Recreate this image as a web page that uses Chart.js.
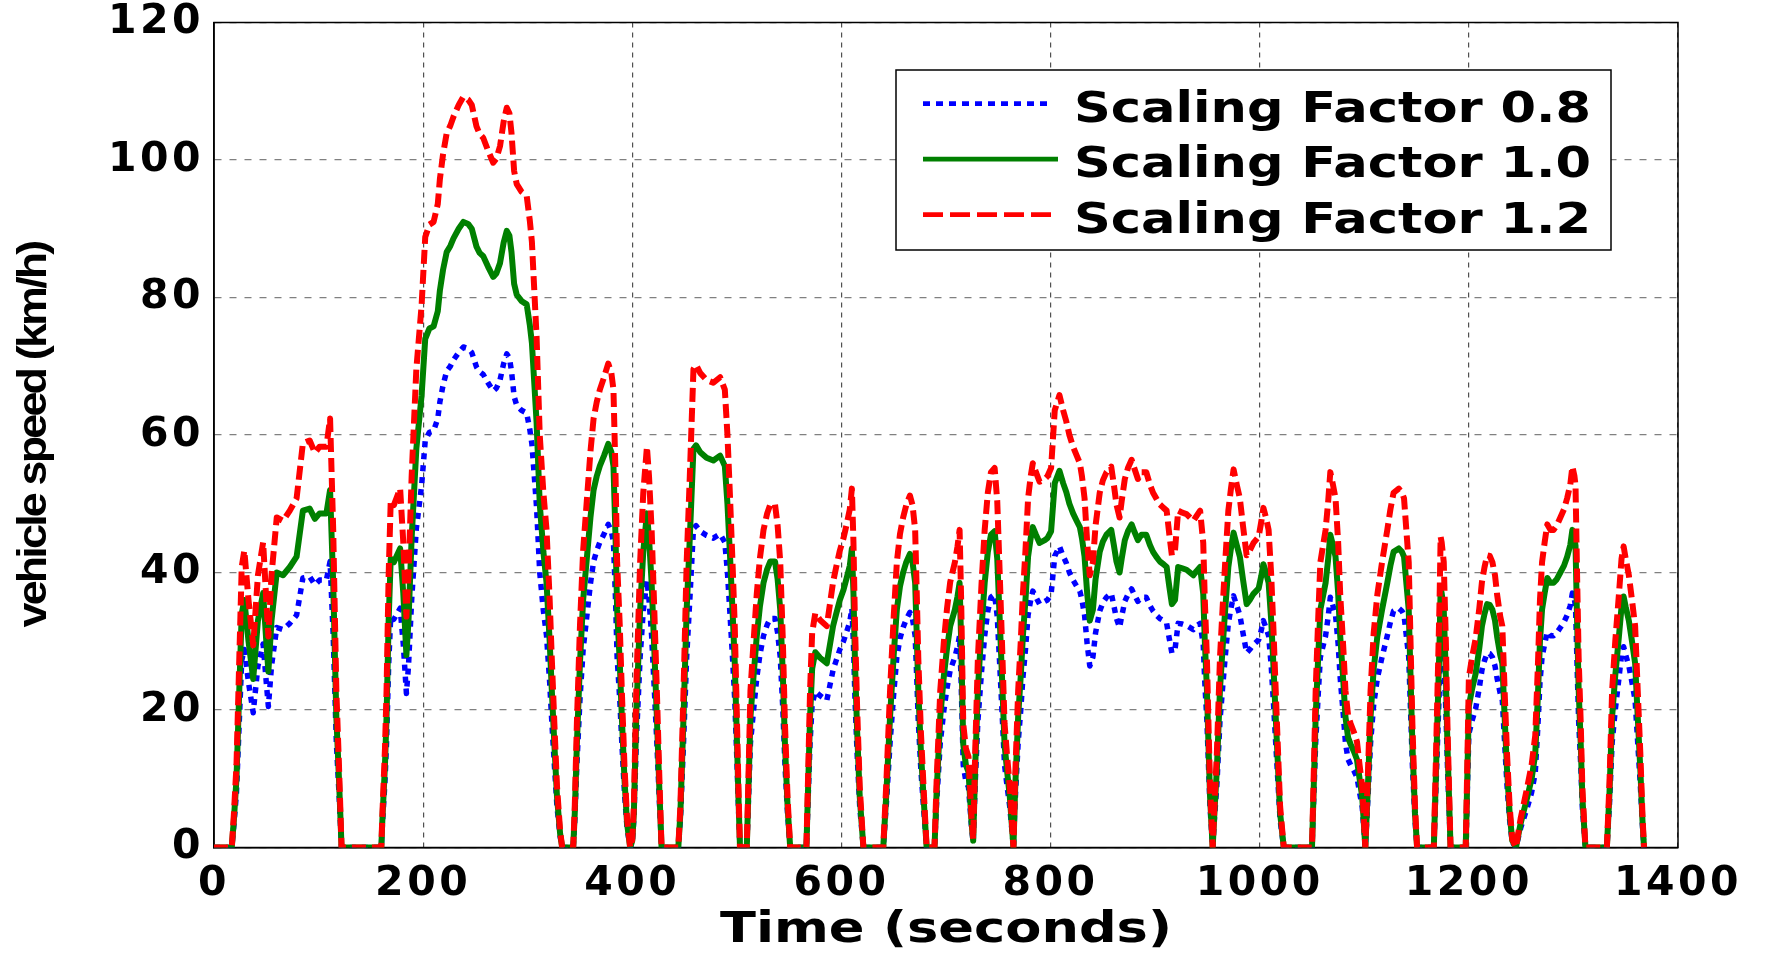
<!DOCTYPE html>
<html>
<head>
<meta charset="utf-8">
<script src="https://cdn.jsdelivr.net/npm/chart.js@4.4.1/dist/chart.umd.min.js"></script>
<style>
  html, body { margin: 0; padding: 0; background: #fff; }
  #wrap { width: 1766px; height: 955px; position: relative; }
</style>
</head>
<body>
<div id="wrap"><canvas id="grafico-velocidade"></canvas></div>
<script>
// tempo (s) - eixo x
const tempo = [0,17,19,21.5,24,26.5,29,33,37.5,42,47,50,52,55,60,66,72.5,79,85,91.5,96.5,101,107.5,111,114,117,119.5,122,
  160,161,163.5,165,167,169,172,175,178,181,184,186,189,193.5,198.5,202,206,210,214,216,219,222.5,226,229,234,238.5,243,246.5,251,254,257.5,262,267,270,273.5,277,280,282.5,284.5,287,289.5,294,299,302,304,306.5,308.5,311.5,315,318,321,323,325.5,328,331,333,
  343.5,345,347,350,353,356.5,360,363,366,369,373,377,380,382,384,385.5,388,390,392.5,395,398,
  400,401.5,404,407.5,410.5,414,416,418.5,421,423.5,426,428,
  444,446,449,452,455,458.5,461,465,471,477.5,484,488.5,491,493.5,496,498,500,501.5,503,
  509.5,511,513,516,519,522,525.5,529,532,536.5,539,541.5,544,546,548.5,551,
  566.5,568,570,572,575,579.5,586,589,592,595,598.5,602,605,608,610,611.5,613,615,617.5,621,
  640,643,646.5,650,653,656,659,662,665.5,668,670.5,672,673.5,676,678.5,681.5,
  689,691,694.5,698,701,704,708.5,711,713,714.5,716.5,719,721.5,724.5,726,728,730.5,734,737,740,743,746.5,749,751,753.5,756,758.5,761,764.5,
  766,769,771.5,773.5,776,778.5,781,783,786,789.5,794.5,797,800.5,802,804,808.5,812,815,818,821.5,825,828,830,832.5,835,837.5,840.5,843,847,850,853.5,858,860.5,863,866,868,871,874,877.5,880,883.5,887,891.5,895,898,901,904.5,908,911,913.5,916,919,922,926,930,936.5,939.5,943,946,947.5,949.5,951,952.5,955,
  957,959,962,964.5,967,970,972.5,975,978,981,984,987.5,990.5,994,999,1001.5,1003.5,1006,1008.5,1011,1013,1016.5,1019.5,1023,
  1050,1051.5,1053.5,1056,1058,1063,1065.5,1067.5,1070,1072.5,1075,1077,1080,1082,1084.5,1087,1090,1093,1095.5,1098,1101,
  1103.5,1106,1109,1112.5,1117,1122,1125,1128,1133,1136,1138,1140.5,1142.5,1146,1148.5,1150.5,
  1166.5,1168,1170,1172,1173,1174,1176,1178,1179.5,1182.5,
  1197,1198.5,1200,1203,1206.5,1210,1212.5,1215,1217.5,1220,1222.5,1225,1227,1230,1232,1234.5,1236.5,1239,1241.5,1245,
  1249.5,1252,1256,1260,1263.5,1266,1268,1270,1272.5,1275,1278,1281,1284,1287.5,1291,1294,1297,1299,1301,1302,1303.5,1305,1307,1308.5,1311.5,
  1332,1334.5,1337,1340,1343.5,1346,1348,1350,1353,1356,1359,1361.5,1364,1366,1367.5];

// velocidade (km/h) - fator 0.8
const fator08 = [0,0,3.2,8,17.6,27.2,28.8,24,19.6,26.4,29.6,24,20.5,26.4,32,31.7,32.6,33.8,39.2,39.4,38.2,38.9,38.9,41.6,30.8,15.2,8,0,
  0,3.2,9.6,15.2,26.4,33.6,33.2,34,34.8,29.6,22.4,26.4,36,46.4,52.6,59.2,60.4,60.6,62.4,64.8,67.2,69.3,70,70.9,72,72.8,72.6,72,69.9,69.2,68.8,67.6,66.4,66.8,68,70.4,71.8,71.2,69.3,65.6,64.3,63.6,63.2,60.8,58.7,53.6,49.4,40,34.4,30.8,24,18.4,12,5.9,1.6,0,
  0,4,12,21.6,28.8,33.6,38.4,41.6,43.2,44.4,45.6,47,46,44.4,36,27.7,21.6,15.2,8,2.8,0,
  0.8,4,16,27.7,34.4,38.9,36,30.8,23.2,15.2,6.4,0,
  0,4,15.2,27.7,36,46.4,46.8,46,45.4,45,45.6,44.4,40,33.8,27.2,21.4,12.8,5.9,0,
  0,6.4,15.2,20,24.6,28,30.8,32.4,33.3,33.3,31.2,27.7,20,12,4.8,0,
  0,6.4,15.2,20.8,22.7,22.1,21.4,23.6,25.8,27.2,28.8,30,31.4,32.8,34.8,29.6,21.4,13.6,5.9,0,
  0,6.4,15.2,22.4,27.7,30.4,32,33.2,34.2,33.2,30.8,24.8,18.4,11.2,5.9,0,
  0,6.4,15.2,20,23.2,25.8,27.7,29.2,30.8,24,12,9.6,8.8,2.8,0.8,9.6,18.4,25.6,30.8,34.4,36.4,36.8,33.6,27.7,20,12,8.8,5.9,0,
  6.4,15.2,20,24.6,28.8,33.8,36,37.3,36.4,35.4,35.8,36,36.8,39.2,42.4,43.8,42.4,41.4,40,38.9,38,37.3,36,33.8,29.6,26.4,27.7,31.2,34.4,35.6,36.4,37,35.2,33.3,32,33.6,35.8,36.8,37.6,36.8,35.8,36.4,36.4,35.2,34.4,33.8,33.3,33,32.6,30.4,28.3,28.8,32.6,32.5,32.3,31.7,32.2,32.6,29.5,24,18.4,12,5.9,0,
  4.8,9,18.4,23.2,27.7,32.6,34.8,36.6,35.2,33.8,31.2,28.3,28.8,29.5,30.2,31.6,33,32,30.8,26.4,21.4,12,4,0,
  0,6.4,15.2,22.4,27.7,30.8,33.6,36.4,35.2,33.8,29.6,24.6,19.2,15.2,12.8,12,11.2,10.2,8,5.9,0,
  7.2,15.2,20.8,24.6,27.7,30.8,32.8,34.4,34.8,34.4,33.8,30.4,27.7,12,4,0,
  0,6.4,15.2,24,30.2,29.6,27.7,20,12,0,
  0,8,16.5,18.4,20.2,23.2,25.8,27.2,28.3,28.2,27.7,26.4,24.6,22.4,21.4,14.4,9,4,0.8,0,
  2.8,4,5.9,8,10.9,17.6,24,27.7,29.6,31.4,30.8,30.8,31.2,32,32.8,33.8,35.2,37,36,35.1,26.4,18.4,12,5.9,0,
  0,6.4,15.2,20,24.6,28,29.2,28,26.4,24,21.4,15.2,9,3.2,0];

// velocidade (km/h) - fator 1.0
const fator10 = [0,0,4,10,22,34,36,30,24.5,33,37,30,25.6,33,40,39.6,40.8,42.3,49,49.3,47.8,48.6,48.6,52,38.5,19,10,0,
  0,4,12,19,33,42,41.5,42.5,43.5,37,28,33,45,58,65.7,74,75.5,75.8,78,81,84,86.6,87.5,88.6,90,91,90.7,90,87.4,86.5,86,84.5,83,83.5,85,88,89.7,89,86.6,82,80.4,79.5,79,76,73.4,67,61.8,50,43,38.5,30,23,15,7.4,2,0,
  0,5,15,27,36,42,48,52,54,55.5,57,58.7,57.5,55.5,45,34.6,27,19,10,3.5,0,
  1,5,20,34.6,43,48.6,45,38.5,29,19,8,0,
  0,5,19,34.6,45,58,58.5,57.5,56.7,56.3,57,55.5,50,42.3,34,26.8,16,7.4,0,
  0,8,19,25,30.7,35,38.5,40.5,41.6,41.6,39,34.6,25,15,6,0,
  0,8,19,26,28.4,27.6,26.8,29.5,32.2,34,36,37.5,39.2,41,43.5,37,26.8,17,7.4,0,
  0,8,19,28,34.6,38,40,41.5,42.7,41.5,38.5,31,23,14,7.4,0,
  0,8,19,25,29,32.2,34.6,36.5,38.5,30,15,12,11,3.5,1,12,23,32,38.5,43,45.5,46,42,34.6,25,15,11,7.4,0,
  8,19,25,30.7,36,42.3,45,46.6,45.5,44.3,44.7,45,46,49,53,54.8,53,51.7,50,48.6,47.5,46.6,45,42.3,37,33,34.6,39,43,44.5,45.5,46.2,44,41.6,40,42,44.7,46,47,46,44.7,45.5,45.5,44,43,42.3,41.6,41.2,40.8,38,35.4,36,40.8,40.6,40.4,39.6,40.2,40.8,36.9,30,23,15,7.4,0,
  6,11.3,23,29,34.6,40.8,43.5,45.8,44,42.3,39,35.4,36,36.9,37.7,39.5,41.2,40,38.5,33,26.8,15,5,0,
  0,8,19,28,34.6,38.5,42,45.5,44,42.3,37,30.7,24,19,16,15,14,12.8,10,7.4,0,
  9,19,26,30.7,34.6,38.5,41,43,43.5,43,42.3,38,34.6,15,5,0,
  0,8,19,30,37.7,37,34.6,25,15,0,
  0,10,20.6,23,25.3,29,32.2,34,35.4,35.3,34.6,33,30.7,28,26.8,18,11.3,5,1,0,
  3.5,5,7.4,10,13.6,22,30,34.6,37,39.2,38.5,38.5,39,40,41,42.3,44,46.2,45,43.9,33,23,15,7.4,0,
  0,8,19,25,30.7,35,36.5,35,33,30,26.8,19,11.3,4,0];

// velocidade (km/h) - fator 1.2
const fator12 = [0,0,4.8,12,26.4,40.8,43.2,36,29.4,39.6,44.4,36,30.7,39.6,48,47.5,49,50.8,58.8,59.2,57.4,58.3,58.3,62.4,46.2,22.8,12,0,
  0,4.8,14.4,22.8,39.6,50.4,49.8,51,52.2,44.4,33.6,39.6,54,69.6,78.8,88.8,90.6,91,93.6,97.2,100.8,103.9,105,106.3,108,109.2,108.8,108,104.9,103.8,103.2,101.4,99.6,100.2,102,105.6,107.6,106.8,103.9,98.4,96.5,95.4,94.8,91.2,88.1,80.4,74.2,60,51.6,46.2,36,27.6,18,8.9,2.4,0,
  0,6,18,32.4,43.2,50.4,57.6,62.4,64.8,66.6,68.4,70.4,69,66.6,54,41.5,32.4,22.8,12,4.2,0,
  1.2,6,24,41.5,51.6,58.3,54,46.2,34.8,22.8,9.6,0,
  0,6,22.8,41.5,54,69.6,70.2,69,68,67.6,68.4,66.6,60,50.8,40.8,32.2,19.2,8.9,0,
  0,9.6,22.8,30,36.8,42,46.2,48.6,49.9,49.9,46.8,41.5,30,18,7.2,0,
  0,9.6,22.8,31.2,34.1,33.1,32.2,35.4,38.6,40.8,43.2,45,47,49.2,52.2,44.4,32.2,20.4,8.9,0,
  0,9.6,22.8,33.6,41.5,45.6,48,49.8,51.2,49.8,46.2,37.2,27.6,16.8,8.9,0,
  0,9.6,22.8,30,34.8,38.6,41.5,43.8,46.2,36,18,14.4,13.2,4.2,1.2,14.4,27.6,38.4,46.2,51.6,54.6,55.2,50.4,41.5,30,18,13.2,8.9,0,
  9.6,22.8,30,36.8,43.2,50.8,54,55.9,54.6,53.2,53.6,54,55.2,58.8,63.6,65.8,63.6,62,60,58.3,57,55.9,54,50.8,44.4,39.6,41.5,46.8,51.6,53.4,54.6,55.4,52.8,49.9,48,50.4,53.6,55.2,56.4,55.2,53.6,54.6,54.6,52.8,51.6,50.8,49.9,49.4,49,45.6,42.5,43.2,49,48.7,48.5,47.5,48.2,49,44.3,36,27.6,18,8.9,0,
  7.2,13.6,27.6,34.8,41.5,49,52.2,55,52.8,50.8,46.8,42.5,43.2,44.3,45.2,47.4,49.4,48,46.2,39.6,32.2,18,6,0,
  0,9.6,22.8,33.6,41.5,46.2,50.4,54.6,52.8,50.8,44.4,36.8,28.8,22.8,19.2,18,16.8,15.4,12,8.9,0,
  10.8,22.8,31.2,36.8,41.5,46.2,49.2,51.6,52.2,51.6,50.8,45.6,41.5,18,6,0,
  0,9.6,22.8,36,45.2,44.4,41.5,30,18,0,
  0,12,24.7,27.6,30.4,34.8,38.6,40.8,42.5,42.4,41.5,39.6,36.8,33.6,32.2,21.6,13.6,6,1.2,0,
  4.2,6,8.9,12,16.3,26.4,36,41.5,44.4,47,46.2,46.2,46.8,48,49.2,50.8,52.8,55.4,54,52.7,39.6,27.6,18,8.9,0,
  0,9.6,22.8,30,36.8,42,43.8,42,39.6,36,32.2,22.8,13.6,4.8,0];

const rotulos = ['Scaling Factor 0.8', 'Scaling Factor 1.0', 'Scaling Factor 1.2'];
const tituloX = 'Time (seconds)';
const tituloY = 'vehicle speed (km/h)';

function pontos(valores) {
  return tempo.map((t, i) => ({ x: t, y: valores[i] }));
}

// texto esticado na horizontal ate a largura pedida
function textoEsticado(c, txt, x, y, largura) {
  const w = c.measureText(txt).width;
  c.save();
  c.translate(x, y);
  c.scale(largura / w, 1);
  c.fillText(txt, 0, 0);
  c.restore();
}

// espacamento das letras dos ticks
const espacoLetras = {
  id: 'espacoLetras',
  beforeUpdate(chart) { chart.ctx.letterSpacing = '3.5px'; },
  beforeDraw(chart) { chart.ctx.letterSpacing = '3.5px'; }
};

// moldura da area do grafico
const moldura = {
  id: 'moldura',
  beforeDatasetsDraw(chart) {
    const { ctx, chartArea: a } = chart;
    ctx.save();
    ctx.strokeStyle = '#000';
    ctx.lineWidth = 1.5;
    ctx.strokeRect(a.left, a.top, a.right - a.left, a.bottom - a.top);
    ctx.restore();
  }
};

// tracos da legenda (a legenda tem tracos um pouco mais longos)
const tracoLegenda = [[7, 6], [], [20, 7]];

// legenda e titulos dos eixos
const legendaTitulos = {
  id: 'legendaTitulos',
  afterDraw(chart) {
    const { ctx, chartArea: a } = chart;
    ctx.save();
    ctx.letterSpacing = '0px';

    // legenda
    const lx = a.right - 782, ly = a.top + 47.5, lw = 715, lh = 180;
    ctx.fillStyle = '#fff';
    ctx.fillRect(lx, ly, lw, lh);
    ctx.strokeStyle = '#000';
    ctx.lineWidth = 1.5;
    ctx.strokeRect(lx, ly, lw, lh);
    chart.data.datasets.forEach((ds, i) => {
      const y = ly + 33.7 + i * 55.5;
      ctx.save();
      ctx.strokeStyle = ds.borderColor;
      ctx.lineWidth = 4.7;
      ctx.setLineDash(tracoLegenda[i]);
      ctx.beginPath();
      ctx.moveTo(lx + 27, y);
      ctx.lineTo(lx + (tracoLegenda[i].length ? 156 : 162), y);
      ctx.stroke();
      ctx.restore();
      ctx.fillStyle = '#000';
      ctx.font = 'bold 42px "DejaVu Sans"';
      ctx.textAlign = 'left';
      ctx.textBaseline = 'alphabetic';
      textoEsticado(ctx, ds.label, lx + 178, y + 18, 517);
    });

    // titulo eixo x
    ctx.fillStyle = '#000';
    ctx.font = 'bold 42px "DejaVu Sans"';
    ctx.textAlign = 'left';
    ctx.textBaseline = 'alphabetic';
    const cx = (a.left + a.right) / 2;
    textoEsticado(ctx, tituloX, cx - 226, a.bottom + 94, 452);

    // titulo eixo y (condensado)
    ctx.font = 'bold 40px "Liberation Sans"';
    ctx.letterSpacing = '-2.5px';
    const wy = ctx.measureText(tituloY).width;
    ctx.translate(46, (a.top + a.bottom) / 2);
    ctx.rotate(-Math.PI / 2);
    ctx.scale(385 / wy, 1);
    ctx.textAlign = 'center';
    ctx.fillText(tituloY, 0, 0);
    ctx.restore();
  }
};

const fonteTicks = { family: 'DejaVu Sans', size: 41, weight: 'bold' };

const ctx1 = document.getElementById('grafico-velocidade').getContext('2d');
const data1 = {
  datasets: [
    {
      label: rotulos[0],
      data: pontos(fator08),
      borderColor: '#0000ff',
      borderWidth: 5.5,
      borderDash: [6, 6],
      order: 3
    },
    {
      label: rotulos[1],
      data: pontos(fator10),
      borderColor: '#008000',
      borderWidth: 6,
      order: 2
    },
    {
      label: rotulos[2],
      data: pontos(fator12),
      borderColor: '#ff0000',
      borderWidth: 6,
      borderDash: [14, 6],
      order: 1
    }
  ]
};
const options1 = {
  responsive: true,
  maintainAspectRatio: false,
  animation: false,
  devicePixelRatio: 1,
  layout: { padding: { top: 22.5, right: 88, left: 0, bottom: 0 } },
  elements: {
    point: { radius: 0 },
    line: { tension: 0, borderJoinStyle: 'round', fill: false }
  },
  plugins: {
    legend: { display: false },
    tooltip: { enabled: false },
    title: { display: false }
  },
  scales: {
    x: {
      type: 'linear',
      min: 0,
      max: 1400,
      ticks: {
        stepSize: 200, font: fonteTicks, color: '#000', padding: 12, maxRotation: 0, autoSkip: false,
        callback: (v) => String(v)  // sem separador de milhar
      },
      grid: { color: '#505050', lineWidth: 1.2, drawTicks: false },
      border: { display: true, color: '#000', width: 1.5, dash: [5, 5] },
      afterFit: (s) => { s.height = 107.5; }
    },
    y: {
      min: 0,
      max: 120,
      ticks: { stepSize: 20, font: fonteTicks, color: '#000', padding: 10 },
      grid: { color: '#808080', lineWidth: 1.2, drawTicks: false },
      border: { display: true, color: '#000', width: 1.5, dash: [7, 8] },
      afterFit: (s) => { s.width = 214; s.paddingTop = 0; s.paddingBottom = 0; }
    }
  }
};
new Chart(ctx1, {
  type: 'line',
  data: data1,
  options: options1,
  plugins: [espacoLetras, moldura, legendaTitulos]
});
</script>
</body>
</html>
